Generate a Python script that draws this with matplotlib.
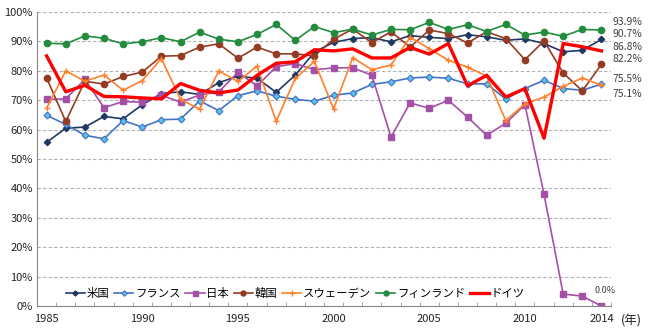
import numpy as np
import matplotlib
matplotlib.use("Agg")
import matplotlib.pyplot as plt
from matplotlib.ticker import FixedLocator, FuncFormatter

plt.rcParams['font.family'] = ['Noto Sans CJK JP', 'DejaVu Sans']

years = list(range(1985, 2015))

us = [55.7, 60.5, 60.9, 64.5, 63.7, 68.5, 72.3, 72.9, 72.0, 76.0,
      78.2, 77.5, 72.7, 78.6, 86.4, 89.7, 91.0, 91.3, 89.9, 92.0,
      91.4, 91.0, 92.3, 91.6, 90.4, 90.9, 89.3, 86.5, 87.0, 90.7]
france = [64.9, 61.8, 58.1, 56.9, 63.1, 60.9, 63.4, 63.6, 69.8, 66.5,
          71.6, 73.2, 71.4, 70.3, 69.7, 71.7, 72.5, 75.4, 76.3, 77.6,
          77.9, 77.5, 75.6, 75.6, 70.4, 74.0, 76.8, 74.0, 73.4, 75.5]
japan = [70.3, 70.5, 77.1, 67.5, 69.6, 69.3, 71.7, 69.4, 71.8, 72.9,
         79.5, 74.9, 81.4, 82.5, 80.4, 81.0, 81.1, 78.5, 57.5, 69.1,
         67.3, 70.0, 64.3, 58.1, 62.2, 68.5, 38.0, 4.1, 3.4, 0.0]
korea = [77.6, 62.8, 76.5, 75.5, 78.1, 79.6, 85.0, 85.2, 88.1, 89.2,
         84.3, 88.1, 85.8, 85.8, 85.1, 90.8, 94.2, 89.6, 93.3, 88.1,
         93.9, 92.7, 89.5, 93.3, 91.0, 83.8, 90.2, 79.3, 73.2, 82.2]
sweden = [67.3, 80.0, 76.5, 78.6, 73.4, 76.7, 84.2, 70.3, 67.0, 80.0,
          76.4, 81.6, 62.9, 77.5, 83.2, 67.1, 84.5, 80.4, 82.0, 91.4,
          87.6, 83.6, 81.3, 78.2, 63.1, 68.8, 71.1, 74.7, 77.6, 75.1]
finland = [89.4, 89.2, 91.9, 91.1, 89.2, 89.9, 91.3, 89.9, 93.2, 90.8,
           89.9, 92.4, 95.8, 90.4, 95.1, 93.0, 94.2, 92.2, 94.1, 94.0,
           96.5, 94.1, 95.7, 93.4, 95.8, 92.2, 93.2, 91.8, 94.1, 93.9]
germany = [85.1, 72.9, 75.1, 71.3, 71.2, 70.8, 70.5, 75.7, 73.4, 72.5,
           73.5, 78.5, 82.6, 83.1, 87.2, 86.8, 87.5, 84.4, 84.4, 88.0,
           85.7, 89.3, 74.9, 78.5, 71.1, 74.0, 57.1, 89.3, 88.2, 86.8]

# end labels: text and vertical position (in % units)
end_labels = ["93.9%", "90.7%", "86.8%", "82.2%", "75.5%", "75.1%"]
end_label_pos = [96.7, 92.4, 88.2, 83.9, 77.4, 72.3]

fig = plt.figure(figsize=(6.5, 3.36), dpi=100)
ax = fig.add_axes([0.057, 0.089, 0.883, 0.875])

ax.plot(years, us, color='#1F3864', lw=1.2, marker='D', ms=3.2, label='米国')
ax.plot(years, france, color='#4472C4', lw=1.2, marker='D', ms=3.5,
        mfc='#5BC0EB', mec='#4472C4', mew=0.8, label='フランス')
ax.plot(years, japan, color='#A550A7', lw=1.2, marker='s', ms=4.5, label='日本')
ax.plot(years, korea, color='#943B22', lw=1.2, marker='o', ms=4.5, label='韓国')
ax.plot(years, sweden, color='#FF7F2A', lw=1.2, marker='+', ms=5, mew=1.0,
        label='スウェーデン')
ax.plot(years, finland, color='#238B3E', lw=1.2, marker='o', ms=4.5,
        label='フィンランド')
ax.plot(years, germany, color='#FF0000', lw=2.4, label='ドイツ')

ax.set_xlim(1984.5, 2014.5)
ax.set_ylim(0, 100)

ax.yaxis.set_major_locator(FixedLocator(np.arange(0, 101, 10)))
ax.yaxis.set_major_formatter(FuncFormatter(lambda v, p: f"{v:.0f}%"))
ax.tick_params(axis='y', length=0, labelsize=8, pad=3, colors='#222222')

ax.xaxis.set_major_locator(FixedLocator([1985, 1990, 1995, 2000, 2005, 2010, 2014]))
ax.xaxis.set_minor_locator(FixedLocator(np.arange(1984.5, 2015, 1)))
ax.tick_params(axis='x', which='major', length=0, labelsize=8, pad=6, colors='#222222')
ax.tick_params(axis='x', which='minor', length=3, direction='in', color='#999999')

ax.grid(axis='y', color='#B0B0B0', ls=(0, (3, 2)), lw=0.8)
ax.set_axisbelow(True)
for s in ['top', 'right']:
    ax.spines[s].set_visible(False)
ax.spines['left'].set_color('#888888')
ax.spines['bottom'].set_color('#888888')

for txt, pos in zip(end_labels, end_label_pos):
    ax.text(2014.6, pos, txt, fontsize=7.5, color='#404040', va='center',
            ha='left', clip_on=False)
ax.text(2014.2, 5.4, "0.0%", fontsize=6.5, color='#404040', va='center',
        ha='center', clip_on=False)
ax.text(2015.0, -5.0, "(年)", fontsize=9, color='#222222', va='center',
        ha='left', clip_on=False)

ax.legend(loc='center left', bbox_to_anchor=(0.05, 0.044), ncol=7, frameon=False,
          fontsize=8.2, handlelength=1.7, handletextpad=0.15, columnspacing=0.4,
          borderaxespad=0, borderpad=0, markerscale=0.8)

fig.savefig("out.png", dpi=100)
